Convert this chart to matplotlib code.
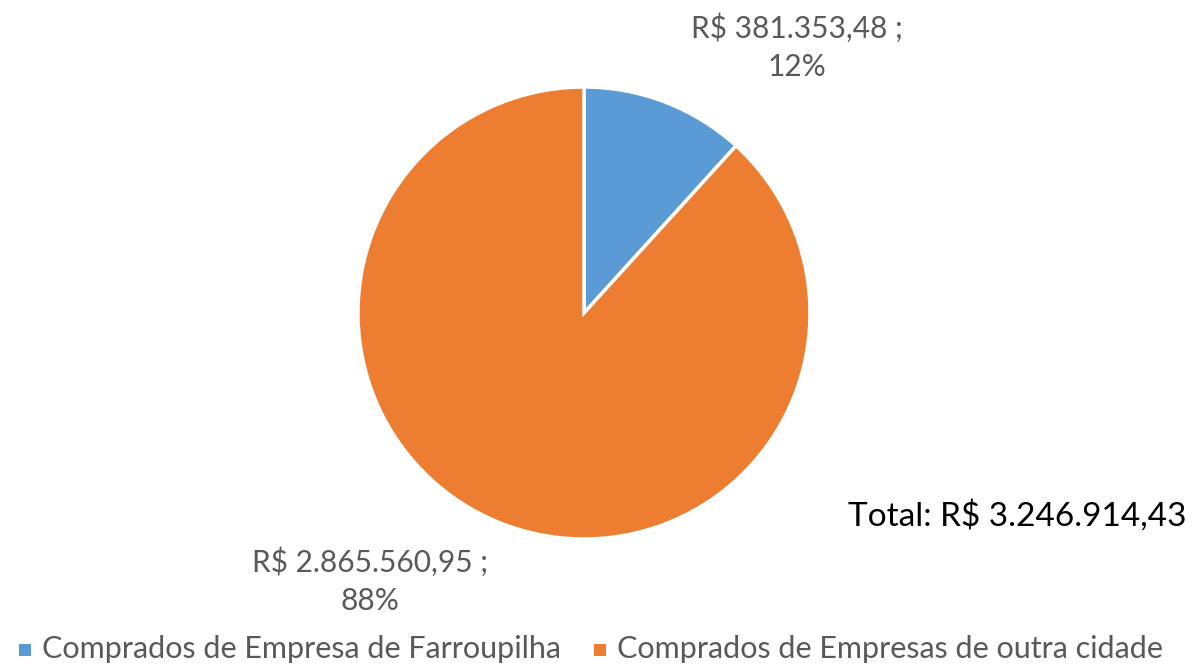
import matplotlib
matplotlib.use("Agg")
import matplotlib.pyplot as plt
from matplotlib.patches import Rectangle

categories = ["Comprados de Empresa de Farroupilha", "Comprados de Empresas de outra cidade"]
values = [381353.48, 2865560.95]
value_labels = ["R$ 381.353,48 ;\n12%", "R$ 2.865.560,95 ;\n88%"]
total_label = "Total: R$ 3.246.914,43"
colors = ["#5B9BD5", "#ED7D31"]

plt.rcParams['font.family'] = ['Lato', 'DejaVu Sans']

W, H = 1194, 664
fig = plt.figure(figsize=(W / 100, H / 100), dpi=100)

cx, cy, r = 584, 313, 226
ax = fig.add_axes([(cx - r) / W, (H - cy - r) / H, 2 * r / W, 2 * r / H])
ax.pie(values, colors=colors, startangle=90, counterclock=False,
       wedgeprops=dict(edgecolor="white", linewidth=2.5), radius=1.0)
ax.set_xlim(-1, 1)
ax.set_ylim(-1, 1)
ax.set_aspect("equal")
ax.axis("off")

gray = "#595959"
fig.text(797 / W, 1 - 47 / H, value_labels[0], ha="center", va="center",
         fontsize=21.5, color=gray, linespacing=1.45)
fig.text(370 / W, 1 - 581 / H, value_labels[1], ha="center", va="center",
         fontsize=21.5, color=gray, linespacing=1.45)
fig.text(1186 / W, 1 - 516 / H, total_label, ha="right", va="center",
         fontsize=24, color="black")

# legend
leg_y = 650
xs = [19, 594]
sq = 12
for x, c, lab in zip(xs, colors, categories):
    fig.patches.append(Rectangle((x / W, (H - leg_y - sq / 2) / H), sq / W, sq / H,
                                 transform=fig.transFigure, facecolor=c, edgecolor="none"))
    fig.text((x + 23) / W, 1 - (leg_y - 1) / H, lab, ha="left", va="center",
             fontsize=22, color=gray)

fig.savefig("out.png", dpi=100)
